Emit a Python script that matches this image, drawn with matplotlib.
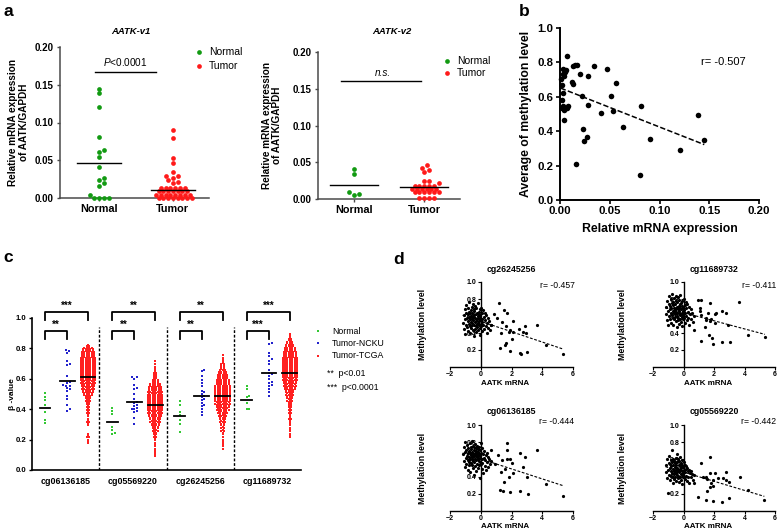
"""
    AATK expression and methylation - multi panel figure (a, b, c, d)
"""

# %% Library
import numpy as np
import matplotlib.pyplot as plt

plt.rcParams['font.family'] = ['Liberation Sans', 'DejaVu Sans']
plt.rcParams['mathtext.fontset'] = 'custom'
plt.rcParams['mathtext.rm'] = 'Liberation Sans'
plt.rcParams['mathtext.it'] = 'Liberation Sans:italic'

W, H = 778, 531

# %% Data - panel a (relative mRNA expression, AATK/GAPDH)
groups_a = ['Normal', 'Tumor']
v1_normal = [0.145, 0.139, 0.121, 0.081, 0.064, 0.061, 0.054, 0.041, 0.027,
             0.024, 0.020, 0.016, 0.004, 0.0, 0.0, 0.0, 0.0]
v1_tumor = [0.090, 0.080, 0.053, 0.046, 0.034, 0.029, 0.029, 0.027, 0.024, 0.021, 0.020,
            0.0135, 0.0135, 0.0135, 0.0135, 0.0135, 0.0135,
            0.009, 0.009, 0.009, 0.009, 0.009, 0.009, 0.009,
            0.0045, 0.0045, 0.0045, 0.0045, 0.0045, 0.0045, 0.0045, 0.0045,
            0.0, 0.0, 0.0, 0.0, 0.0, 0.0, 0.0, 0.0]
v1_means = [0.0465, 0.0105]
v2_normal = [0.041, 0.034, 0.009, 0.006, 0.007]
v2_tumor = [0.046, 0.042, 0.039, 0.037, 0.025, 0.024, 0.022,
            0.018, 0.018, 0.018, 0.018, 0.018,
            0.0135, 0.0135, 0.0135, 0.0135, 0.0135, 0.0135,
            0.009, 0.009, 0.009, 0.009, 0.009, 0.009,
            0.001, 0.001, 0.001, 0.001]
v2_means = [0.0195, 0.0165]

# %% Data - panel b
b_mrna = [0.0007, 0.003, 0.005, 0.0027, 0.004, 0.0057, 0.0067, 0.002, 0.0033, 0.002,
          0.0027, 0.004, 0.002, 0.0067, 0.0077, 0.0043, 0.0117, 0.0127, 0.0134, 0.0154,
          0.0174, 0.016, 0.020, 0.0217, 0.0234, 0.024, 0.0268, 0.0284, 0.0284, 0.0341,
          0.0408, 0.0468, 0.0512, 0.0535, 0.0565, 0.0635, 0.0803, 0.0816, 0.090, 0.121,
          0.139, 0.145]
b_meth = [0.702, 0.764, 0.745, 0.731, 0.72, 0.754, 0.836, 0.667, 0.623, 0.58,
          0.545, 0.522, 0.532, 0.536, 0.545, 0.468, 0.687, 0.673, 0.78, 0.787,
          0.787, 0.209, 0.731, 0.605, 0.412, 0.342, 0.368, 0.72, 0.551, 0.778,
          0.503, 0.76, 0.605, 0.516, 0.683, 0.422, 0.143, 0.549, 0.354, 0.288,
          0.495, 0.348]
b_r = "r= -0.507"

# %% Data - panel c (beta values per CpG probe)
probes_c = ['cg06136185', 'cg05569220', 'cg26245256', 'cg11689732']
c_normal = [[0.505, 0.48, 0.46, 0.43, 0.38, 0.33, 0.31],
            [0.41, 0.39, 0.37, 0.28, 0.26, 0.245, 0.235],
            [0.455, 0.43, 0.38, 0.36, 0.33, 0.30, 0.25],
            [0.55, 0.53, 0.49, 0.48, 0.44, 0.40, 0.40]]
c_ncku = [[0.79, 0.785, 0.77, 0.72, 0.70, 0.69, 0.62, 0.58, 0.57, 0.56,
           0.555, 0.55, 0.54, 0.53, 0.52, 0.49, 0.47, 0.43, 0.40, 0.39],
          [0.61, 0.61, 0.60, 0.56, 0.54, 0.53, 0.50, 0.47, 0.45, 0.44,
           0.43, 0.42, 0.41, 0.40, 0.40, 0.39, 0.38, 0.34, 0.30],
          [0.66, 0.65, 0.62, 0.59, 0.57, 0.55, 0.52, 0.51, 0.50, 0.49,
           0.48, 0.47, 0.46, 0.44, 0.43, 0.42, 0.40, 0.38, 0.36],
          [0.835, 0.83, 0.77, 0.75, 0.73, 0.72, 0.70, 0.66, 0.64, 0.63,
           0.62, 0.60, 0.58, 0.57, 0.56, 0.55, 0.53, 0.51, 0.49]]
# TCGA: number of samples in each 0.02 wide beta bin, starting at tcga_start
tcga_start = [0.18, 0.10, 0.14, 0.22]
tcga_counts = [[2, 1, 3, 1, 0, 0, 2, 3, 1, 2, 3, 3, 3, 4, 5, 6, 8, 10, 11, 12, 13,
                14, 14, 14, 14, 14, 14, 14, 13, 12, 11, 9, 3],
               [2, 2, 1, 2, 1, 2, 3, 4, 5, 6, 8, 9, 10, 12, 13, 14, 14, 14, 14, 14,
                13, 13, 12, 10, 6, 5, 4, 3, 2, 1, 1, 1],
               [1, 2, 2, 1, 1, 2, 3, 3, 4, 5, 6, 7, 9, 11, 12, 13, 14, 14, 14, 14,
                14, 13, 12, 11, 10, 8, 5, 4, 3, 2, 1, 1],
               [2, 1, 2, 1, 2, 2, 3, 2, 3, 3, 4, 4, 5, 6, 7, 8, 10, 11, 12, 13, 14,
                14, 14, 14, 14, 14, 13, 12, 11, 10, 8, 6, 4, 2, 1]]
means_normal = [0.41, 0.315, 0.355, 0.46]
means_ncku = [0.585, 0.45, 0.49, 0.635]
means_tcga = [0.61, 0.43, 0.487, 0.635]
stars_top = ['***', '**', '**', '***']
stars_low = ['**', '**', '**', '***']
legend_c = ['Normal', 'Tumor-NCKU', 'Tumor-TCGA']

# %% Data - panel d (AATK mRNA vs methylation level)
probes_d = ['cg26245256', 'cg11689732', 'cg06136185', 'cg05569220']
r_d = ['r= -0.457', 'r= -0.411', 'r= -0.444', 'r= -0.442']
blob_x = [-1.18, -1.12, -1.08, -1.05, -1.02, -1.0, -0.97, -0.95, -0.93, -0.9,
          -0.88, -0.86, -0.84, -0.82, -0.8, -0.79, -0.77, -0.75, -0.74, -0.72,
          -0.7, -0.69, -0.67, -0.66, -0.64, -0.62, -0.61, -0.6, -0.58, -0.57,
          -0.55, -0.54, -0.52, -0.51, -0.5, -0.48, -0.47, -0.45, -0.44, -0.42,
          -0.41, -0.4, -0.38, -0.37, -0.35, -0.34, -0.32, -0.31, -0.3, -0.28,
          -0.27, -0.25, -0.24, -0.22, -0.21, -0.2, -0.18, -0.17, -0.15, -0.14,
          -0.12, -0.11, -0.1, -0.08, -0.07, -0.05, -0.04, -0.02, -0.01, 0.01,
          0.03, 0.05, 0.07, 0.09, 0.11, 0.14, 0.16, 0.19, 0.22, 0.25,
          0.28, 0.31, 0.35, 0.38, 0.42, 0.46, 0.5, 0.55, 0.6, 0.66]
blob_y = [
    [0.52, 0.61, 0.45, 0.68, 0.56, 0.39, 0.64, 0.50, 0.73, 0.58,
     0.47, 0.62, 0.54, 0.70, 0.42, 0.59, 0.65, 0.51, 0.76, 0.48,
     0.56, 0.63, 0.40, 0.67, 0.53, 0.60, 0.46, 0.71, 0.57, 0.49,
     0.64, 0.52, 0.74, 0.44, 0.59, 0.55, 0.68, 0.36, 0.61, 0.50,
     0.66, 0.53, 0.45, 0.72, 0.58, 0.48, 0.62, 0.54, 0.41, 0.69,
     0.56, 0.51, 0.64, 0.47, 0.60, 0.75, 0.52, 0.43, 0.58, 0.65,
     0.49, 0.62, 0.54, 0.38, 0.68, 0.56, 0.46, 0.60, 0.51, 0.70,
     0.48, 0.57, 0.63, 0.42, 0.53, 0.67, 0.50, 0.59, 0.45, 0.64,
     0.55, 0.48, 0.61, 0.40, 0.52, 0.58, 0.46, 0.54, 0.43, 0.50],
    [0.62, 0.71, 0.55, 0.78, 0.66, 0.49, 0.74, 0.60, 0.83, 0.68,
     0.57, 0.72, 0.64, 0.80, 0.52, 0.69, 0.75, 0.61, 0.86, 0.58,
     0.66, 0.73, 0.50, 0.77, 0.63, 0.70, 0.56, 0.81, 0.67, 0.59,
     0.74, 0.62, 0.84, 0.54, 0.69, 0.65, 0.78, 0.47, 0.71, 0.60,
     0.76, 0.63, 0.55, 0.82, 0.68, 0.58, 0.72, 0.64, 0.51, 0.79,
     0.66, 0.61, 0.74, 0.57, 0.70, 0.85, 0.62, 0.53, 0.68, 0.75,
     0.59, 0.72, 0.64, 0.48, 0.78, 0.66, 0.56, 0.70, 0.61, 0.80,
     0.58, 0.67, 0.73, 0.52, 0.63, 0.77, 0.60, 0.69, 0.55, 0.74,
     0.65, 0.58, 0.71, 0.50, 0.62, 0.68, 0.56, 0.64, 0.53, 0.60],
    [0.66, 0.58, 0.74, 0.51, 0.69, 0.80, 0.62, 0.55, 0.71, 0.64,
     0.77, 0.48, 0.67, 0.59, 0.73, 0.53, 0.70, 0.63, 0.57, 0.79,
     0.61, 0.68, 0.45, 0.75, 0.65, 0.56, 0.72, 0.60, 0.81, 0.54,
     0.69, 0.63, 0.50, 0.76, 0.58, 0.66, 0.71, 0.42, 0.64, 0.74,
     0.57, 0.68, 0.61, 0.78, 0.52, 0.65, 0.70, 0.59, 0.73, 0.47,
     0.63, 0.76, 0.55, 0.67, 0.60, 0.72, 0.50, 0.64, 0.69, 0.58,
     0.75, 0.53, 0.66, 0.62, 0.38, 0.71, 0.57, 0.64, 0.79, 0.55,
     0.68, 0.49, 0.61, 0.73, 0.56, 0.66, 0.44, 0.62, 0.70, 0.52,
     0.59, 0.65, 0.48, 0.68, 0.57, 0.63, 0.51, 0.60, 0.55, 0.58],
    [0.45, 0.53, 0.38, 0.60, 0.48, 0.21, 0.56, 0.42, 0.64, 0.50,
     0.36, 0.55, 0.46, 0.59, 0.41, 0.52, 0.57, 0.44, 0.71, 0.39,
     0.49, 0.54, 0.33, 0.61, 0.47, 0.43, 0.58, 0.37, 0.51, 0.45,
     0.56, 0.40, 0.62, 0.48, 0.35, 0.53, 0.44, 0.66, 0.50, 0.42,
     0.57, 0.46, 0.38, 0.60, 0.49, 0.41, 0.54, 0.47, 0.34, 0.58,
     0.45, 0.52, 0.39, 0.55, 0.48, 0.63, 0.43, 0.36, 0.50, 0.56,
     0.42, 0.53, 0.46, 0.31, 0.59, 0.47, 0.40, 0.51, 0.44, 0.57,
     0.39, 0.48, 0.54, 0.37, 0.45, 0.52, 0.41, 0.49, 0.35, 0.50,
     0.46, 0.40, 0.48, 0.33, 0.44, 0.47, 0.39, 0.43, 0.36, 0.42]]
out_x = [
    [0.68, 0.89, 1.05, 1.16, 1.22, 1.3, 1.4, 1.5, 1.56, 1.67, 1.67, 1.71, 1.84, 1.89,
     1.89, 2.0, 2.07, 2.1, 2.51, 2.56, 2.6, 2.73, 2.87, 2.96, 3.0, 3.67, 4.22, 5.37],
    [0.68, 0.95, 1.05, 1.05, 1.12, 1.16, 1.16, 1.38, 1.45, 1.45, 1.60, 1.67, 1.71, 1.71,
     1.82, 1.89, 1.93, 2.04, 2.04, 2.15, 2.53, 2.53, 2.77, 2.92, 3.03, 3.65, 4.24, 5.34],
    [0.67, 0.9, 1.1, 1.22, 1.3, 1.4, 1.44, 1.49, 1.56, 1.71, 1.71, 1.73, 1.84, 1.89,
     1.93, 2.0, 2.07, 2.54, 2.56, 2.74, 2.87, 3.0, 3.06, 3.67, 4.22, 5.37],
    [0.68, 0.95, 1.16, 1.27, 1.45, 1.49, 1.56, 1.56, 1.71, 1.71, 1.74, 1.82, 1.93,
     1.93, 1.93, 2.04, 2.26, 2.53, 2.59, 2.77, 2.81, 2.99, 2.99, 3.69, 4.24, 5.3]]
out_y = [
    [0.50, 0.62, 0.58, 0.755, 0.22, 0.40, 0.53, 0.67, 0.26, 0.48, 0.286, 0.63, 0.415,
     0.44, 0.19, 0.325, 0.54, 0.415, 0.45, 0.16, 0.15, 0.41, 0.48, 0.395, 0.18, 0.49,
     0.26, 0.155],
    [0.43, 0.789, 0.70, 0.663, 0.307, 0.789, 0.615, 0.467, 0.578, 0.548, 0.633, 0.381,
     0.752, 0.54, 0.567, 0.344, 0.274, 0.626, 0.52, 0.64, 0.663, 0.293, 0.64, 0.49,
     0.289, 0.767, 0.374, 0.348],
    [0.71, 0.55, 0.65, 0.24, 0.45, 0.59, 0.23, 0.34, 0.49, 0.79, 0.60, 0.71, 0.39,
     0.60, 0.22, 0.56, 0.44, 0.23, 0.67, 0.51, 0.63, 0.39, 0.20, 0.71, 0.31, 0.17],
    [0.32, 0.16, 0.563, 0.40, 0.13, 0.39, 0.37, 0.23, 0.447, 0.28, 0.633, 0.32, 0.355,
     0.29, 0.12, 0.44, 0.38, 0.11, 0.38, 0.36, 0.459, 0.34, 0.146, 0.40, 0.245, 0.13]]


# %% Helpers
def box(l, t, r, b):
    # pixel box -> figure fraction rect
    return [l / W, 1 - b / H, (r - l) / W, (b - t) / H]


def ftext(x, y, s, **kw):
    fig.text(x / W, 1 - y / H, s, **kw)


def swarm(vals, dot, px_x, px_y, tight=0.9):
    # simple beeswarm: horizontal offsets so that dots do not overlap
    vals = np.asarray(vals, float)
    offs = np.zeros(len(vals))
    done = []
    for i in np.argsort(vals):
        y = vals[i] * px_y
        k = 0
        pos = None
        while pos is None:
            cands = [0.0] if k == 0 else [k * dot / 2, -k * dot / 2]
            for cx in cands:
                if all((cx - px) ** 2 + (y - py) ** 2 >= (tight * dot) ** 2 for px, py in done):
                    pos = cx
                    break
            k += 1
        done.append((pos, y))
        offs[i] = pos / px_x
    return offs


def bin_rows(start, counts, dx):
    # lay out binned TCGA samples as two staggered rows per bin
    ys, xs = [], []
    for j, n in enumerate(counts):
        v = start + 0.02 * j
        na = (n + 1) // 2
        for row_v, m in ((v - 0.005, na), (v + 0.005, n - na)):
            for k in range(m):
                ys.append(row_v)
                xs.append((k - (m - 1) / 2) * dx)
    return np.array(xs), np.array(ys)


def dot_panel(ax, normal, tumor, means, px_x, px_y, half):
    for i, (vals, col) in enumerate(((normal, '#129a12'), (tumor, '#ff1a1a'))):
        off = swarm(vals, 4.8, px_x, px_y, tight=0.85)
        ax.plot(i + off, vals, 'o', color=col, ms=3.4, mew=0, clip_on=False, zorder=3)
        ax.plot([i - half, i + half], [means[i]] * 2, color='k', lw=1.0, zorder=4)
    ax.set_ylim(0, 0.2)
    ax.set_yticks([0, 0.05, 0.10, 0.15, 0.20])
    ax.set_yticklabels(['0.00', '0.05', '0.10', '0.15', '0.20'], fontsize=7)
    ax.set_xticks([0, 1])
    ax.set_xticklabels(groups_a, fontsize=7.8)
    for s in ['top', 'right']:
        ax.spines[s].set_visible(False)
    for s in ['left', 'bottom']:
        ax.spines[s].set_color('#4a4a4a')
        ax.spines[s].set_linewidth(1.1)
    ax.tick_params(colors='#4a4a4a', length=2.5, width=1, labelcolor='k', pad=2)
    for t in ax.get_xticklabels() + ax.get_yticklabels():
        t.set_fontweight('bold')
    ax.set_ylabel('Relative mRNA expression\nof AATK/GAPDH', fontsize=7.2,
                  fontweight='bold', linespacing=1.1)


fig = plt.figure(figsize=(W / 100, H / 100), dpi=100)

# %% Panel a
ax = fig.add_axes(box(60, 47, 209, 198))
ax.set_xlim(-0.53, 1.49)
dot_panel(ax, v1_normal, v1_tumor, v1_means, 74, 755, 0.30)
ax.yaxis.set_label_coords(-0.21, 0.5)
ax.plot([-0.05, 0.77], [0.167, 0.167], color='k', lw=1.0, clip_on=False)
ax.text(0.36, 0.172, '$P$<0.0001', ha='center', va='bottom', fontsize=7.2)
ftext(131, 32, 'AATK-v1', ha='center', va='center', fontsize=6.8,
      fontweight='bold', fontstyle='italic')

ax = fig.add_axes(box(318, 52, 460, 199))
ax.set_xlim(-0.51, 1.51)
dot_panel(ax, v2_normal, v2_tumor, v2_means, 70, 735, 0.34)
ax.yaxis.set_label_coords(-0.25, 0.5)
ax.plot([-0.18, 0.96], [0.1605, 0.1605], color='k', lw=1.0, clip_on=False)
ax.text(0.42, 0.165, 'n.s.', ha='center', va='bottom', fontsize=7.2, fontstyle='italic')
ftext(392, 32, 'AATK-v2', ha='center', va='center', fontsize=6.8,
      fontweight='bold', fontstyle='italic')

# legends of panel a
for (mx, my0, my1) in [(199, 52, 66), (447, 61, 73)]:
    fig.lines.append(plt.Line2D([mx / W], [1 - my0 / H], marker='o', color='#129a12',
                                ms=3.4, mew=0, transform=fig.transFigure))
    fig.lines.append(plt.Line2D([mx / W], [1 - my1 / H], marker='o', color='#ff1a1a',
                                ms=3.4, mew=0, transform=fig.transFigure))
    ftext(mx + 10, my0, 'Normal', va='center', fontsize=7.5)
    ftext(mx + 10, my1, 'Tumor', va='center', fontsize=7.5)

# %% Panel b
ax = fig.add_axes(box(560, 28, 759, 200))
ax.plot(b_mrna, b_meth, 'o', color='k', ms=4.0, mew=0, clip_on=False, zorder=3)
k, c0 = np.polyfit(b_mrna, b_meth, 1)
xx = np.array([min(b_mrna), max(b_mrna)])
ax.plot(xx, k * xx + c0, color='k', lw=1.1, ls=(0, (3.5, 1.5)))
ax.set_xlim(0, 0.2)
ax.set_ylim(0, 1.0)
ax.set_xticks([0, 0.05, 0.10, 0.15, 0.20])
ax.set_xticklabels(['0.00', '0.05', '0.10', '0.15', '0.20'])
ax.set_yticks([0, 0.2, 0.4, 0.6, 0.8, 1.0])
ax.set_yticklabels(['0.0', '0.2', '0.4', '0.6', '0.8', '1.0'])
for s in ['top', 'right']:
    ax.spines[s].set_visible(False)
for s in ['left', 'bottom']:
    ax.spines[s].set_linewidth(1.4)
ax.tick_params(length=3, width=1.2, labelsize=8.2, pad=1.5)
for t in ax.get_xticklabels() + ax.get_yticklabels():
    t.set_fontweight('bold')
ax.set_xlabel('Relative mRNA expression', fontsize=8.8, fontweight='bold')
ax.xaxis.set_label_coords(0.5, -0.135)
ax.set_ylabel('Average of methylation level', fontsize=8.8, fontweight='bold')
ax.yaxis.set_label_coords(-0.14, 0.5)
ax.text(0.164, 0.80, b_r, ha='center', va='center', fontsize=8)

# %% Panel c
ax = fig.add_axes(box(32, 318, 301, 470))
ax.set_xlim(0, 12)
ax.set_ylim(0, 1.0)
px_x, px_y = 269 / 12, 152
pos = [0.58, 1.57, 2.5]
col_c = ['#33c833', '#2323cc', '#ff2020']
for g in range(4):
    base = 3 * g
    off = swarm(c_normal[g], 2.7, px_x, px_y)
    ax.plot(base + pos[0] + off, c_normal[g], 's', color=col_c[0], ms=1.9, mew=0, zorder=3)
    off = swarm(c_ncku[g], 2.7, px_x, px_y)
    ax.plot(base + pos[1] + off, c_ncku[g], 's', color=col_c[1], ms=1.9, mew=0, zorder=3)
    xs, ys = bin_rows(tcga_start[g], tcga_counts[g], 2.4 / px_x)
    ax.plot(base + pos[2] + xs, ys, 's', color=col_c[2], ms=1.9, mew=0, zorder=3)
    for p, m, hw in zip(pos, [means_normal[g], means_ncku[g], means_tcga[g]], [0.24, 0.33, 0.33]):
        ax.plot([base + p - hw, base + p + hw], [m, m], color='k', lw=1.3, zorder=4)
    # significance brackets
    x0, x1, x2 = base + pos[0], base + pos[1], base + pos[2]
    ax.plot([x0, x0, x2, x2], [0.985, 1.04, 1.04, 0.985], color='k', lw=1.3, clip_on=False)
    ax.plot([x0, x0, x1, x1], [0.86, 0.915, 0.915, 0.86], color='k', lw=1.3, clip_on=False)
    ax.text((x0 + x2) / 2, 1.045, stars_top[g], ha='center', va='bottom', fontsize=7,
            fontweight='bold', clip_on=False)
    ax.text((x0 + x1) / 2, 0.92, stars_low[g], ha='center', va='bottom', fontsize=7,
            fontweight='bold', clip_on=False)
ax.vlines([3, 6, 9], 0, 0.94, colors='k', lw=1.0, linestyles=(0, (2, 1.3)))
ax.set_xticks([1.5, 4.5, 7.5, 10.5])
ax.set_xticklabels(probes_c, fontsize=6.4, fontweight='bold')
ax.tick_params(axis='x', length=0, pad=5)
ax.set_yticks([0, 0.2, 0.4, 0.6, 0.8, 1.0])
ax.set_yticklabels(['0.0', '0.2', '0.4', '0.6', '0.8', '1.0'], fontsize=5.6, fontweight='bold')
ax.tick_params(axis='y', length=2.5, width=1, pad=1.5)
for s in ['top', 'right']:
    ax.spines[s].set_visible(False)
for s in ['left', 'bottom']:
    ax.spines[s].set_linewidth(1.2)
ax.set_ylabel('β -value', fontsize=6, fontweight='bold')
ax.yaxis.set_label_coords(-0.06, 0.5)

for i, lab in enumerate(legend_c):
    y = [331, 343, 356][i]
    fig.lines.append(plt.Line2D([318 / W], [1 - y / H], marker='s', color=col_c[i],
                                ms=1.9, mew=0, transform=fig.transFigure))
    ftext(332, y, lab, va='center', fontsize=6.3)
ftext(327, 373, '**  p<0.01', va='center', fontsize=6.3)
ftext(327, 388, '***  p<0.0001', va='center', fontsize=6.3)

# %% Panel d
boxes_d = [(450, 282, 573, 367), (653, 282, 775, 367), (450, 425, 573, 511), (653, 425, 775, 511)]
for i in range(4):
    l, t, r, b = boxes_d[i]
    ax = fig.add_axes(box(l, t, r, b))
    xs = np.array(blob_x + out_x[i])
    ys = np.array(blob_y[i] + out_y[i])
    ax.plot(xs, ys, 'o', color='k', ms=2.3, mew=0, zorder=3)
    k, c0 = np.polyfit(xs, ys, 1)
    xx = np.array([xs.min(), xs.max()])
    ax.plot(xx, k * xx + c0, color='k', lw=0.8, ls=(0, (2.5, 1.5)), zorder=2)
    ax.set_xlim(-2, 6)
    ax.set_ylim(0, 1.0)
    ax.spines['left'].set_position(('data', 0))
    for s in ['top', 'right']:
        ax.spines[s].set_visible(False)
    for s in ['left', 'bottom']:
        ax.spines[s].set_linewidth(1.0)
    ax.set_xticks([-2, 0, 2, 4, 6])
    ax.set_yticks([0.2, 0.4, 0.6, 0.8, 1.0])
    ax.set_yticklabels(['0.2', '0.4', '0.6', '0.8', '1.0'])
    ax.tick_params(length=2, width=0.8, labelsize=5, pad=1)
    for tl in ax.get_xticklabels() + ax.get_yticklabels():
        tl.set_fontweight('bold')
    ax.set_xlabel('AATK mRNA', fontsize=5.8, fontweight='bold')
    ax.xaxis.set_label_coords(0.45, -0.155 if i < 2 else -0.145)
    ax.set_ylabel('Methylation level', fontsize=6.3, fontweight='bold')
    ax.yaxis.set_label_coords(-0.19 if i % 2 == 0 else -0.21, 0.5)
    ftext((l + r) / 2, t - 13, probes_d[i], ha='center', va='center', fontsize=6.3,
          fontweight='bold')
    ftext(r - 16, t + (4 if i < 2 else -4), r_d[i], ha='center', va='center', fontsize=6.2)

# %% Panel letters
for lab, x, y in [('a', 8, 11), ('b', 524, 11), ('c', 8, 258), ('d', 399, 260)]:
    ftext(x, y, lab, ha='center', va='center', fontsize=12.5, fontweight='bold')

fig.savefig('out.png', dpi=100)
